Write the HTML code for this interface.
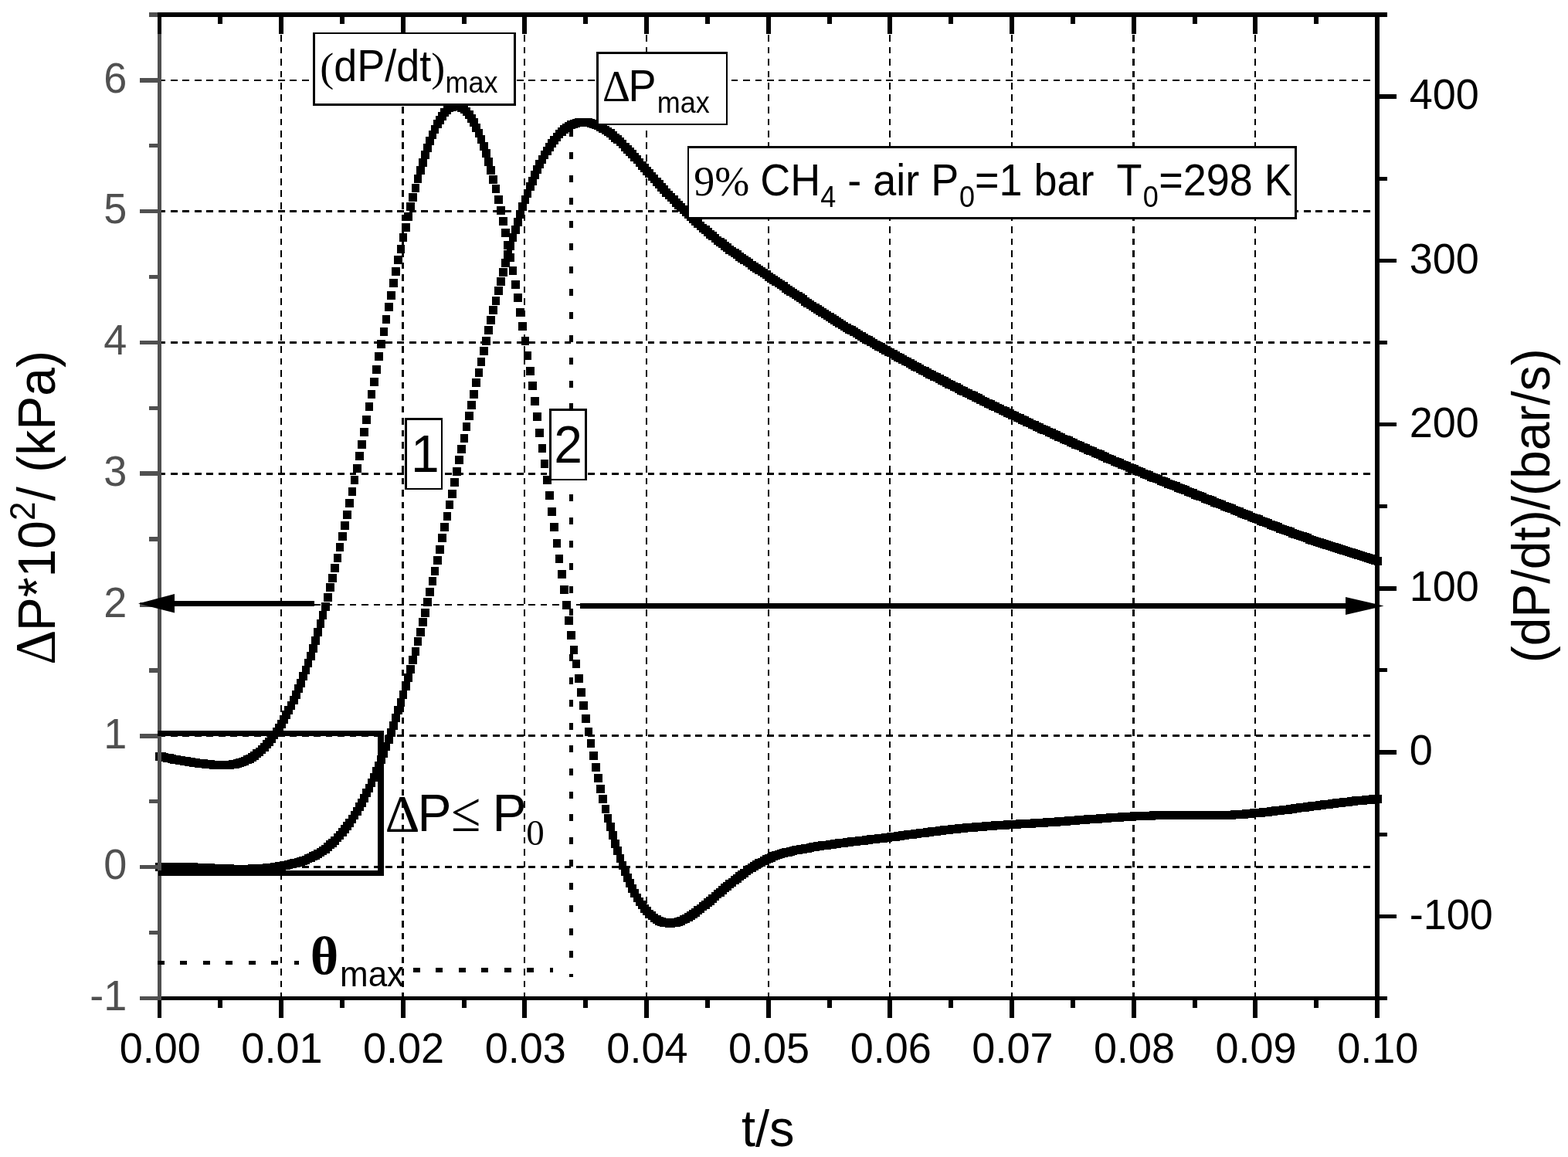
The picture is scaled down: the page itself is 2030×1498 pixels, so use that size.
<!DOCTYPE html>
<html lang="en"><head><meta charset="utf-8"><title>Pressure and rate of pressure rise</title>
<style>html,body{margin:0;padding:0;background:#fff}body{width:2030px;height:1498px;overflow:hidden}svg{display:block}text{white-space:pre}</style>
</head><body>
<svg width="2030" height="1498" viewBox="0 0 2030 1498">
<rect width="2030" height="1498" fill="#fff"/>
<g stroke="#000" fill="none" shape-rendering="crispEdges">
<line x1="364" y1="29.5" x2="364" y2="1290" stroke-width="2" stroke-dasharray="8.9 6.6"/>
<line x1="521.5" y1="29.5" x2="521.5" y2="1290" stroke-width="3" stroke-dasharray="8.9 6.6"/>
<line x1="679" y1="29.5" x2="679" y2="1290" stroke-width="2" stroke-dasharray="8.9 6.6"/>
<line x1="837" y1="29.5" x2="837" y2="1290" stroke-width="2" stroke-dasharray="8.9 6.6"/>
<line x1="995" y1="29.5" x2="995" y2="1290" stroke-width="2" stroke-dasharray="8.9 6.6"/>
<line x1="1152" y1="29.5" x2="1152" y2="1290" stroke-width="2" stroke-dasharray="8.9 6.6"/>
<line x1="1310" y1="29.5" x2="1310" y2="1290" stroke-width="2" stroke-dasharray="8.9 6.6"/>
<line x1="1467.5" y1="29.5" x2="1467.5" y2="1290" stroke-width="3" stroke-dasharray="8.9 6.6"/>
<line x1="1625" y1="29.5" x2="1625" y2="1290" stroke-width="2" stroke-dasharray="8.9 6.6"/>
<line x1="205.6" y1="104" x2="1780" y2="104" stroke-width="2" stroke-dasharray="8.7 6.74"/>
<line x1="205.6" y1="273.5" x2="1780" y2="273.5" stroke-width="3" stroke-dasharray="8.7 6.74"/>
<line x1="205.6" y1="443.5" x2="1780" y2="443.5" stroke-width="3" stroke-dasharray="8.7 6.74"/>
<line x1="205.6" y1="613.5" x2="1780" y2="613.5" stroke-width="3" stroke-dasharray="8.7 6.74"/>
<line x1="205.6" y1="783" x2="1780" y2="783" stroke-width="2" stroke-dasharray="8.7 6.74"/>
<line x1="205.6" y1="952.5" x2="1780" y2="952.5" stroke-width="3" stroke-dasharray="8.7 6.74"/>
<line x1="205.6" y1="1122.5" x2="1780" y2="1122.5" stroke-width="3" stroke-dasharray="8.7 6.74"/>
</g>
<g fill="#000" shape-rendering="crispEdges">
<path d="M201 974h11v11h-11zM204 974h11v11h-11zM208 975h10v11h-10zM211 976h10v11h-10zM214 976h11v11h-11zM217 977h11v11h-11zM220 978h11v11h-11zM223 978h11v11h-11zM227 979h10v11h-10zM230 979h10v11h-10zM233 980h11v11h-11zM236 980h11v11h-11zM239 981h11v11h-11zM242 981h11v11h-11zM245 982h11v11h-11zM249 982h10v11h-10zM252 983h10v11h-10zM255 983h11v11h-11zM258 983h11v11h-11zM261 984h11v11h-11zM264 984h11v11h-11zM268 984h10v11h-10zM271 985h10v11h-10zM274 985h11v11h-11zM277 985h11v11h-11zM280 985h11v11h-11zM283 985h11v11h-11zM286 985h11v11h-11zM290 985h10v11h-10zM293 985h10v11h-10zM296 984h11v11h-11zM299 984h11v11h-11zM302 983h11v11h-11zM305 982h11v11h-11zM309 981h10v11h-10zM312 980h10v11h-10zM315 978h11v11h-11zM318 977h11v11h-11zM321 975h11v11h-11zM324 973h11v11h-11zM327 970h11v11h-11zM331 968h10v11h-10zM334 965h10v11h-10zM337 962h11v11h-11zM340 958h11v11h-11zM343 955h11v11h-11zM346 951h11v11h-11zM350 946h10v11h-10zM353 942h10v11h-10zM356 937h11v11h-11zM359 932h11v11h-11zM362 926h11v11h-11zM365 920h11v11h-11zM368 914h11v11h-11zM372 908h10v11h-10zM375 901h11v11h-11zM378 894h11v11h-11zM381 886h11v11h-11zM384 879h11v11h-11zM387 870h11v11h-11zM391 862h10v11h-10zM394 853h10v11h-10zM397 844h11v11h-11zM400 834h11v11h-11zM403 824h11v11h-11zM406 813h11v11h-11zM410 802h10v11h-10zM413 791h10v11h-10zM416 780h11v11h-11zM419 768h11v11h-11zM422 755h11v11h-11zM425 743h11v11h-11zM428 730h11v11h-11zM432 717h10v11h-10zM435 703h10v11h-10zM438 689h11v11h-11zM441 675h11v11h-11zM444 661h11v11h-11zM447 646h11v11h-11zM451 631h10v11h-10zM454 616h10v11h-10zM457 601h11v11h-11zM460 585h11v11h-11zM463 570h11v11h-11zM466 554h11v11h-11zM469 538h11v11h-11zM473 521h10v11h-10zM476 505h10v11h-10zM479 489h11v11h-11zM482 473h11v11h-11zM485 456h11v11h-11zM488 440h11v11h-11zM492 424h10v11h-10zM495 408h10v11h-10zM498 392h11v11h-11zM501 377h11v11h-11zM504 361h11v11h-11zM507 346h11v11h-11zM510 331h11v11h-11zM514 317h10v11h-10zM517 302h10v11h-10zM520 289h11v11h-11zM523 275h11v11h-11zM526 262h11v11h-11zM529 250h11v11h-11zM533 238h10v11h-10zM536 226h10v11h-10zM539 215h11v11h-11zM542 205h11v11h-11zM545 195h11v11h-11zM548 186h11v11h-11zM551 177h11v11h-11zM555 169h10v11h-10zM558 162h10v11h-10zM561 155h11v11h-11zM564 150h11v11h-11zM567 145h11v11h-11zM570 140h11v11h-11zM574 137h10v11h-10zM577 134h10v11h-10zM580 133h11v11h-11zM583 132h11v11h-11zM586 132h11v11h-11zM589 132h11v11h-11zM592 134h11v11h-11zM596 136h10v11h-10zM599 139h10v11h-10zM602 143h11v11h-11zM605 148h11v11h-11zM608 153h11v11h-11zM611 160h11v11h-11zM615 167h10v11h-10zM618 175h10v11h-10zM621 184h11v11h-11zM624 193h11v11h-11zM627 204h11v11h-11zM630 215h11v11h-11zM633 227h11v11h-11zM637 239h10v11h-10zM640 253h11v11h-11zM643 267h11v11h-11zM646 281h11v11h-11zM649 296h11v11h-11zM652 312h11v11h-11zM656 328h10v11h-10zM659 345h10v11h-10zM662 363h11v11h-11zM665 380h11v11h-11zM668 399h11v11h-11zM671 417h11v11h-11zM675 436h10v11h-10zM678 455h10v11h-10zM681 475h11v11h-11zM684 494h11v11h-11zM687 514h11v11h-11zM690 534h11v11h-11zM693 555h11v11h-11zM697 575h10v11h-10zM700 595h10v11h-10zM703 616h11v11h-11zM706 636h11v11h-11zM709 657h11v11h-11zM712 677h11v11h-11zM716 698h10v11h-10zM719 718h10v11h-10zM722 738h11v11h-11zM725 758h11v11h-11zM728 778h11v11h-11zM731 798h11v11h-11zM734 817h11v11h-11zM738 836h10v11h-10zM741 854h10v11h-10zM744 873h11v11h-11zM747 891h11v11h-11zM750 908h11v11h-11zM753 925h11v11h-11zM757 942h10v11h-10zM760 957h10v11h-10zM763 973h11v11h-11zM766 988h11v11h-11zM769 1002h11v11h-11zM772 1016h11v11h-11zM775 1029h11v11h-11zM779 1042h10v11h-10zM782 1054h10v11h-10zM785 1065h11v11h-11zM788 1076h11v11h-11zM791 1087h11v11h-11zM794 1096h11v11h-11zM798 1106h10v11h-10zM801 1115h10v11h-10zM804 1123h11v11h-11zM807 1131h11v11h-11zM810 1138h11v11h-11zM813 1145h11v11h-11zM816 1151h11v11h-11zM820 1157h10v11h-10zM823 1162h10v11h-10zM826 1166h11v11h-11zM829 1171h11v11h-11zM832 1174h11v11h-11zM835 1178h11v11h-11zM839 1180h10v11h-10zM842 1183h10v11h-10zM845 1185h11v11h-11zM848 1187h11v11h-11zM851 1188h11v11h-11zM854 1189h11v11h-11zM857 1189h11v11h-11zM861 1190h10v11h-10zM864 1190h10v11h-10zM867 1189h11v11h-11zM870 1189h11v11h-11zM873 1188h11v11h-11zM876 1187h11v11h-11zM880 1185h10v11h-10zM883 1184h10v11h-10zM886 1182h11v11h-11zM889 1180h11v11h-11zM892 1178h11v11h-11zM895 1176h11v11h-11zM898 1173h11v11h-11zM902 1171h10v11h-10zM905 1168h10v11h-10zM908 1166h11v11h-11zM911 1163h11v11h-11zM914 1161h11v11h-11zM917 1158h11v11h-11zM921 1155h10v11h-10zM924 1152h10v11h-10zM927 1150h11v11h-11zM930 1147h11v11h-11zM933 1144h11v11h-11zM936 1142h11v11h-11zM939 1139h11v11h-11zM943 1137h10v11h-10zM946 1134h11v11h-11zM949 1132h11v11h-11zM952 1129h11v11h-11zM955 1127h11v11h-11zM958 1125h11v11h-11zM962 1122h10v11h-10zM965 1120h10v11h-10zM968 1118h11v11h-11zM971 1116h11v11h-11zM974 1114h11v11h-11zM977 1112h11v11h-11zM981 1111h10v11h-10zM984 1109h10v11h-10zM987 1107h11v11h-11zM990 1106h11v11h-11zM993 1105h11v11h-11zM996 1103h11v11h-11zM999 1102h11v11h-11zM1003 1101h10v11h-10zM1006 1100h10v11h-10zM1009 1099h11v11h-11zM1012 1098h11v11h-11zM1015 1098h11v11h-11zM1018 1097h11v11h-11zM1022 1096h10v11h-10zM1025 1095h10v11h-10zM1028 1095h11v11h-11zM1031 1094h11v11h-11zM1034 1094h11v11h-11zM1037 1093h11v11h-11zM1040 1093h11v11h-11zM1044 1092h10v11h-10zM1047 1091h10v11h-10zM1050 1091h11v11h-11zM1053 1090h11v11h-11zM1056 1090h11v11h-11zM1059 1089h11v11h-11zM1063 1089h10v11h-10zM1066 1089h10v11h-10zM1069 1088h11v11h-11zM1072 1088h11v11h-11zM1075 1087h11v11h-11zM1078 1087h11v11h-11zM1081 1086h11v11h-11zM1085 1086h10v11h-10zM1088 1086h10v11h-10zM1091 1085h11v11h-11zM1094 1085h11v11h-11zM1097 1084h11v11h-11zM1100 1084h11v11h-11zM1104 1084h10v11h-10zM1107 1083h10v11h-10zM1110 1083h11v11h-11zM1113 1083h11v11h-11zM1116 1082h11v11h-11zM1119 1082h11v11h-11zM1122 1081h11v11h-11zM1126 1081h10v11h-10zM1129 1081h10v11h-10zM1132 1080h11v11h-11zM1135 1080h11v11h-11zM1138 1080h11v11h-11zM1141 1079h11v11h-11zM1145 1079h10v11h-10zM1148 1078h10v11h-10zM1151 1078h11v11h-11zM1154 1078h11v11h-11zM1157 1077h11v11h-11zM1160 1077h11v11h-11zM1163 1076h11v11h-11zM1167 1076h10v11h-10zM1170 1075h10v11h-10zM1173 1075h11v11h-11zM1176 1075h11v11h-11zM1179 1074h11v11h-11zM1182 1074h11v11h-11zM1186 1073h10v11h-10zM1189 1073h10v11h-10zM1192 1073h11v11h-11zM1195 1072h11v11h-11zM1198 1072h11v11h-11zM1201 1071h11v11h-11zM1204 1071h11v11h-11zM1208 1071h10v11h-10zM1211 1070h11v11h-11zM1214 1070h11v11h-11zM1217 1069h11v11h-11zM1220 1069h11v11h-11zM1223 1069h11v11h-11zM1227 1068h10v11h-10zM1230 1068h10v11h-10zM1233 1068h11v11h-11zM1236 1067h11v11h-11zM1239 1067h11v11h-11zM1242 1067h11v11h-11zM1246 1066h10v11h-10zM1249 1066h10v11h-10zM1252 1066h11v11h-11zM1255 1066h11v11h-11zM1258 1065h11v11h-11zM1261 1065h11v11h-11zM1264 1065h11v11h-11zM1268 1065h10v11h-10zM1271 1064h10v11h-10zM1274 1064h11v11h-11zM1277 1064h11v11h-11zM1280 1064h11v11h-11zM1283 1063h11v11h-11zM1287 1063h10v11h-10zM1290 1063h10v11h-10zM1293 1063h11v11h-11zM1296 1063h11v11h-11zM1299 1062h11v11h-11zM1302 1062h11v11h-11zM1305 1062h11v11h-11zM1309 1062h10v11h-10zM1312 1062h10v11h-10zM1315 1061h11v11h-11zM1318 1061h11v11h-11zM1321 1061h11v11h-11zM1324 1061h11v11h-11zM1328 1061h10v11h-10zM1331 1061h10v11h-10zM1334 1060h11v11h-11zM1337 1060h11v11h-11zM1340 1060h11v11h-11zM1343 1060h11v11h-11zM1346 1060h11v11h-11zM1350 1059h10v11h-10zM1353 1059h10v11h-10zM1356 1059h11v11h-11zM1359 1059h11v11h-11zM1362 1059h11v11h-11zM1365 1058h11v11h-11zM1369 1058h10v11h-10zM1372 1058h10v11h-10zM1375 1058h11v11h-11zM1378 1057h11v11h-11zM1381 1057h11v11h-11zM1384 1057h11v11h-11zM1387 1057h11v11h-11zM1391 1056h10v11h-10zM1394 1056h10v11h-10zM1397 1056h11v11h-11zM1400 1056h11v11h-11zM1403 1055h11v11h-11zM1406 1055h11v11h-11zM1410 1055h10v11h-10zM1413 1055h10v11h-10zM1416 1055h11v11h-11zM1419 1054h11v11h-11zM1422 1054h11v11h-11zM1425 1054h11v11h-11zM1428 1054h11v11h-11zM1432 1053h10v11h-10zM1435 1053h10v11h-10zM1438 1053h11v11h-11zM1441 1053h11v11h-11zM1444 1053h11v11h-11zM1447 1052h11v11h-11zM1451 1052h10v11h-10zM1454 1052h10v11h-10zM1457 1052h11v11h-11zM1460 1052h11v11h-11zM1463 1051h11v11h-11zM1466 1051h11v11h-11zM1469 1051h11v11h-11zM1473 1051h10v11h-10zM1476 1051h10v11h-10zM1479 1051h11v11h-11zM1482 1051h11v11h-11zM1485 1051h11v11h-11zM1488 1050h11v11h-11zM1492 1050h10v11h-10zM1495 1050h10v11h-10zM1498 1050h11v11h-11zM1501 1050h11v11h-11zM1504 1050h11v11h-11zM1507 1050h11v11h-11zM1511 1050h10v11h-10zM1514 1050h10v11h-10zM1517 1050h11v11h-11zM1520 1050h11v11h-11zM1523 1050h11v11h-11zM1526 1050h11v11h-11zM1529 1050h11v11h-11zM1533 1050h10v11h-10zM1536 1050h10v11h-10zM1539 1050h11v11h-11zM1542 1050h11v11h-11zM1545 1050h11v11h-11zM1548 1050h11v11h-11zM1552 1050h10v11h-10zM1555 1050h10v11h-10zM1558 1050h11v11h-11zM1561 1050h11v11h-11zM1564 1050h11v11h-11zM1567 1050h11v11h-11zM1570 1050h11v11h-11zM1574 1050h10v11h-10zM1577 1050h10v11h-10zM1580 1050h11v11h-11zM1583 1050h11v11h-11zM1586 1050h11v11h-11zM1589 1050h11v11h-11zM1593 1049h10v11h-10zM1596 1049h10v11h-10zM1599 1049h11v11h-11zM1602 1049h11v11h-11zM1605 1049h11v11h-11zM1608 1048h11v11h-11zM1611 1048h11v11h-11zM1615 1048h10v11h-10zM1618 1047h10v11h-10zM1621 1047h11v11h-11zM1624 1047h11v11h-11zM1627 1047h11v11h-11zM1630 1046h11v11h-11zM1634 1046h10v11h-10zM1637 1046h10v11h-10zM1640 1045h11v11h-11zM1643 1045h11v11h-11zM1646 1044h11v11h-11zM1649 1044h11v11h-11zM1652 1044h11v11h-11zM1656 1043h10v11h-10zM1659 1043h10v11h-10zM1662 1043h11v11h-11zM1665 1042h11v11h-11zM1668 1042h11v11h-11zM1671 1041h11v11h-11zM1675 1041h10v11h-10zM1678 1040h10v11h-10zM1681 1040h11v11h-11zM1684 1040h11v11h-11zM1687 1039h11v11h-11zM1690 1039h11v11h-11zM1693 1038h11v11h-11zM1697 1038h10v11h-10zM1700 1038h10v11h-10zM1703 1037h11v11h-11zM1706 1037h11v11h-11zM1709 1036h11v11h-11zM1712 1036h11v11h-11zM1716 1036h10v11h-10zM1719 1035h10v11h-10zM1722 1035h11v11h-11zM1725 1034h11v11h-11zM1728 1034h11v11h-11zM1731 1034h11v11h-11zM1734 1033h11v11h-11zM1738 1033h10v11h-10zM1741 1033h10v11h-10zM1744 1032h11v11h-11zM1747 1032h11v11h-11zM1750 1031h11v11h-11zM1753 1031h11v11h-11zM1757 1031h10v11h-10zM1760 1031h10v11h-10zM1763 1030h11v11h-11zM1766 1030h11v11h-11zM1769 1030h11v11h-11zM1772 1029h11v11h-11zM1775 1029h11v11h-11zM1779 1029h10v11h-10z"/>
<path d="M201 1117h11v11h-11zM204 1117h11v11h-11zM208 1117h10v11h-10zM211 1117h10v11h-10zM214 1117h11v11h-11zM217 1117h11v11h-11zM220 1117h11v11h-11zM223 1117h11v11h-11zM227 1117h10v11h-10zM230 1117h10v11h-10zM233 1117h11v11h-11zM236 1117h11v11h-11zM239 1117h11v11h-11zM242 1117h11v11h-11zM245 1117h11v11h-11zM249 1118h10v11h-10zM252 1118h10v11h-10zM255 1118h11v11h-11zM258 1118h11v11h-11zM261 1118h11v11h-11zM264 1118h11v11h-11zM268 1118h10v11h-10zM271 1119h10v11h-10zM274 1119h11v11h-11zM277 1119h11v11h-11zM280 1119h11v11h-11zM283 1119h11v11h-11zM286 1119h11v11h-11zM290 1119h10v11h-10zM293 1119h10v11h-10zM296 1120h11v11h-11zM299 1120h11v11h-11zM302 1120h11v11h-11zM305 1120h11v11h-11zM309 1120h10v11h-10zM312 1120h10v11h-10zM315 1120h11v11h-11zM318 1120h11v11h-11zM321 1119h11v11h-11zM324 1119h11v11h-11zM327 1119h11v11h-11zM331 1119h10v11h-10zM334 1119h10v11h-10zM337 1119h11v11h-11zM340 1118h11v11h-11zM343 1118h11v11h-11zM346 1118h11v11h-11zM350 1117h10v11h-10zM353 1117h10v11h-10zM356 1116h11v11h-11zM359 1116h11v11h-11zM362 1115h11v11h-11zM365 1115h11v11h-11zM368 1114h11v11h-11zM372 1113h10v11h-10zM375 1112h11v11h-11zM378 1112h11v11h-11zM381 1111h11v11h-11zM384 1110h11v11h-11zM387 1109h11v11h-11zM391 1108h10v11h-10zM394 1106h10v11h-10zM397 1105h11v11h-11zM400 1103h11v11h-11zM403 1102h11v11h-11zM406 1100h11v11h-11zM410 1098h10v11h-10zM413 1096h10v11h-10zM416 1094h11v11h-11zM419 1091h11v11h-11zM422 1088h11v11h-11zM425 1086h11v11h-11zM428 1083h11v11h-11zM432 1079h10v11h-10zM435 1076h10v11h-10zM438 1072h11v11h-11zM441 1068h11v11h-11zM444 1064h11v11h-11zM447 1060h11v11h-11zM451 1055h10v11h-10zM454 1050h10v11h-10zM457 1045h11v11h-11zM460 1039h11v11h-11zM463 1034h11v11h-11zM466 1028h11v11h-11zM469 1021h11v11h-11zM473 1015h10v11h-10zM476 1008h10v11h-10zM479 1001h11v11h-11zM482 993h11v11h-11zM485 986h11v11h-11zM488 978h11v11h-11zM492 970h10v11h-10zM495 961h10v11h-10zM498 952h11v11h-11zM501 943h11v11h-11zM504 934h11v11h-11zM507 924h11v11h-11zM510 914h11v11h-11zM514 904h10v11h-10zM517 894h10v11h-10zM520 883h11v11h-11zM523 872h11v11h-11zM526 861h11v11h-11zM529 849h11v11h-11zM533 838h10v11h-10zM536 825h10v11h-10zM539 813h11v11h-11zM542 800h11v11h-11zM545 788h11v11h-11zM548 774h11v11h-11zM551 761h11v11h-11zM555 747h10v11h-10zM558 734h10v11h-10zM561 720h11v11h-11zM564 706h11v11h-11zM567 691h11v11h-11zM570 677h11v11h-11zM574 663h10v11h-10zM577 648h10v11h-10zM580 634h11v11h-11zM583 619h11v11h-11zM586 605h11v11h-11zM589 590h11v11h-11zM592 576h11v11h-11zM596 562h10v11h-10zM599 547h10v11h-10zM602 533h11v11h-11zM605 519h11v11h-11zM608 505h11v11h-11zM611 490h11v11h-11zM615 477h10v11h-10zM618 463h10v11h-10zM621 449h11v11h-11zM624 436h11v11h-11zM627 422h11v11h-11zM630 409h11v11h-11zM633 396h11v11h-11zM637 384h10v11h-10zM640 371h11v11h-11zM643 359h11v11h-11zM646 347h11v11h-11zM649 335h11v11h-11zM652 324h11v11h-11zM656 313h10v11h-10zM659 302h10v11h-10zM662 292h11v11h-11zM665 282h11v11h-11zM668 272h11v11h-11zM671 262h11v11h-11zM675 253h10v11h-10zM678 245h10v11h-10zM681 236h11v11h-11zM684 229h11v11h-11zM687 221h11v11h-11zM690 214h11v11h-11zM693 207h11v11h-11zM697 201h10v11h-10zM700 195h10v11h-10zM703 190h11v11h-11zM706 185h11v11h-11zM709 180h11v11h-11zM712 176h11v11h-11zM716 172h10v11h-10zM719 168h10v11h-10zM722 165h11v11h-11zM725 162h11v11h-11zM728 160h11v11h-11zM731 158h11v11h-11zM734 156h11v11h-11zM738 155h10v11h-10zM741 154h10v11h-10zM744 153h11v11h-11zM747 153h11v11h-11zM750 153h11v11h-11zM753 153h11v11h-11zM757 153h10v11h-10zM760 154h10v11h-10zM763 155h11v11h-11zM766 156h11v11h-11zM769 157h11v11h-11zM772 159h11v11h-11zM775 161h11v11h-11zM779 163h10v11h-10zM782 165h10v11h-10zM785 167h11v11h-11zM788 170h11v11h-11zM791 173h11v11h-11zM794 175h11v11h-11zM798 178h10v11h-10zM801 181h10v11h-10zM804 185h11v11h-11zM807 188h11v11h-11zM810 191h11v11h-11zM813 194h11v11h-11zM816 198h11v11h-11zM820 201h10v11h-10zM823 205h10v11h-10zM826 209h11v11h-11zM829 212h11v11h-11zM832 216h11v11h-11zM835 219h11v11h-11zM839 223h10v11h-10zM842 226h10v11h-10zM845 230h11v11h-11zM848 233h11v11h-11zM851 237h11v11h-11zM854 240h11v11h-11zM857 244h11v11h-11zM861 247h10v11h-10zM864 250h10v11h-10zM867 253h11v11h-11zM870 257h11v11h-11zM873 260h11v11h-11zM876 263h11v11h-11zM880 266h10v11h-10zM883 269h10v11h-10zM886 272h11v11h-11zM889 275h11v11h-11zM892 278h11v11h-11zM895 281h11v11h-11zM898 284h11v11h-11zM902 287h10v11h-10zM905 290h10v11h-10zM908 292h11v11h-11zM911 295h11v11h-11zM914 298h11v11h-11zM917 300h11v11h-11zM921 303h10v11h-10zM924 306h10v11h-10zM927 308h11v11h-11zM930 310h11v11h-11zM933 313h11v11h-11zM936 315h11v11h-11zM939 318h11v11h-11zM943 320h10v11h-10zM946 322h11v11h-11zM949 324h11v11h-11zM952 327h11v11h-11zM955 329h11v11h-11zM958 331h11v11h-11zM962 333h10v11h-10zM965 335h10v11h-10zM968 338h11v11h-11zM971 340h11v11h-11zM974 342h11v11h-11zM977 344h11v11h-11zM981 346h10v11h-10zM984 348h10v11h-10zM987 350h11v11h-11zM990 353h11v11h-11zM993 355h11v11h-11zM996 357h11v11h-11zM999 359h11v11h-11zM1003 361h10v11h-10zM1006 363h10v11h-10zM1009 365h11v11h-11zM1012 368h11v11h-11zM1015 370h11v11h-11zM1018 372h11v11h-11zM1022 374h10v11h-10zM1025 376h10v11h-10zM1028 378h11v11h-11zM1031 380h11v11h-11zM1034 382h11v11h-11zM1037 385h11v11h-11zM1040 387h11v11h-11zM1044 389h10v11h-10zM1047 391h10v11h-10zM1050 393h11v11h-11zM1053 395h11v11h-11zM1056 397h11v11h-11zM1059 399h11v11h-11zM1063 401h10v11h-10zM1066 403h10v11h-10zM1069 405h11v11h-11zM1072 407h11v11h-11zM1075 409h11v11h-11zM1078 411h11v11h-11zM1081 413h11v11h-11zM1085 415h10v11h-10zM1088 417h10v11h-10zM1091 419h11v11h-11zM1094 421h11v11h-11zM1097 422h11v11h-11zM1100 424h11v11h-11zM1104 426h10v11h-10zM1107 428h10v11h-10zM1110 430h11v11h-11zM1113 432h11v11h-11zM1116 434h11v11h-11zM1119 435h11v11h-11zM1122 437h11v11h-11zM1126 439h10v11h-10zM1129 441h10v11h-10zM1132 443h11v11h-11zM1135 444h11v11h-11zM1138 446h11v11h-11zM1141 448h11v11h-11zM1145 450h10v11h-10zM1148 451h10v11h-10zM1151 453h11v11h-11zM1154 455h11v11h-11zM1157 457h11v11h-11zM1160 458h11v11h-11zM1163 460h11v11h-11zM1167 462h10v11h-10zM1170 463h10v11h-10zM1173 465h11v11h-11zM1176 467h11v11h-11zM1179 469h11v11h-11zM1182 470h11v11h-11zM1186 472h10v11h-10zM1189 474h10v11h-10zM1192 475h11v11h-11zM1195 477h11v11h-11zM1198 479h11v11h-11zM1201 480h11v11h-11zM1204 482h11v11h-11zM1208 483h10v11h-10zM1211 485h11v11h-11zM1214 487h11v11h-11zM1217 488h11v11h-11zM1220 490h11v11h-11zM1223 492h11v11h-11zM1227 493h10v11h-10zM1230 495h10v11h-10zM1233 496h11v11h-11zM1236 498h11v11h-11zM1239 500h11v11h-11zM1242 501h11v11h-11zM1246 503h10v11h-10zM1249 504h10v11h-10zM1252 506h11v11h-11zM1255 507h11v11h-11zM1258 509h11v11h-11zM1261 510h11v11h-11zM1264 512h11v11h-11zM1268 514h10v11h-10zM1271 515h10v11h-10zM1274 517h11v11h-11zM1277 518h11v11h-11zM1280 520h11v11h-11zM1283 521h11v11h-11zM1287 523h10v11h-10zM1290 524h10v11h-10zM1293 526h11v11h-11zM1296 527h11v11h-11zM1299 529h11v11h-11zM1302 530h11v11h-11zM1305 532h11v11h-11zM1309 533h10v11h-10zM1312 535h10v11h-10zM1315 536h11v11h-11zM1318 538h11v11h-11zM1321 539h11v11h-11zM1324 541h11v11h-11zM1328 542h10v11h-10zM1331 544h10v11h-10zM1334 545h11v11h-11zM1337 547h11v11h-11zM1340 548h11v11h-11zM1343 550h11v11h-11zM1346 551h11v11h-11zM1350 552h10v11h-10zM1353 554h10v11h-10zM1356 555h11v11h-11zM1359 557h11v11h-11zM1362 558h11v11h-11zM1365 560h11v11h-11zM1369 561h10v11h-10zM1372 563h10v11h-10zM1375 564h11v11h-11zM1378 565h11v11h-11zM1381 567h11v11h-11zM1384 568h11v11h-11zM1387 570h11v11h-11zM1391 571h10v11h-10zM1394 572h10v11h-10zM1397 574h11v11h-11zM1400 575h11v11h-11zM1403 577h11v11h-11zM1406 578h11v11h-11zM1410 579h10v11h-10zM1413 581h10v11h-10zM1416 582h11v11h-11zM1419 583h11v11h-11zM1422 585h11v11h-11zM1425 586h11v11h-11zM1428 588h11v11h-11zM1432 589h10v11h-10zM1435 590h10v11h-10zM1438 592h11v11h-11zM1441 593h11v11h-11zM1444 594h11v11h-11zM1447 596h11v11h-11zM1451 597h10v11h-10zM1454 598h10v11h-10zM1457 600h11v11h-11zM1460 601h11v11h-11zM1463 602h11v11h-11zM1466 604h11v11h-11zM1469 605h11v11h-11zM1473 606h10v11h-10zM1476 608h10v11h-10zM1479 609h11v11h-11zM1482 610h11v11h-11zM1485 612h11v11h-11zM1488 613h11v11h-11zM1492 614h10v11h-10zM1495 615h10v11h-10zM1498 617h11v11h-11zM1501 618h11v11h-11zM1504 619h11v11h-11zM1507 621h11v11h-11zM1511 622h10v11h-10zM1514 623h10v11h-10zM1517 624h11v11h-11zM1520 626h11v11h-11zM1523 627h11v11h-11zM1526 628h11v11h-11zM1529 629h11v11h-11zM1533 631h10v11h-10zM1536 632h10v11h-10zM1539 633h11v11h-11zM1542 635h11v11h-11zM1545 636h11v11h-11zM1548 637h11v11h-11zM1552 638h10v11h-10zM1555 640h10v11h-10zM1558 641h11v11h-11zM1561 642h11v11h-11zM1564 643h11v11h-11zM1567 645h11v11h-11zM1570 646h11v11h-11zM1574 647h10v11h-10zM1577 648h10v11h-10zM1580 650h11v11h-11zM1583 651h11v11h-11zM1586 652h11v11h-11zM1589 653h11v11h-11zM1593 655h10v11h-10zM1596 656h10v11h-10zM1599 657h11v11h-11zM1602 659h11v11h-11zM1605 660h11v11h-11zM1608 661h11v11h-11zM1611 662h11v11h-11zM1615 664h10v11h-10zM1618 665h10v11h-10zM1621 666h11v11h-11zM1624 667h11v11h-11zM1627 669h11v11h-11zM1630 670h11v11h-11zM1634 671h10v11h-10zM1637 672h10v11h-10zM1640 674h11v11h-11zM1643 675h11v11h-11zM1646 676h11v11h-11zM1649 677h11v11h-11zM1652 679h11v11h-11zM1656 680h10v11h-10zM1659 681h10v11h-10zM1662 682h11v11h-11zM1665 683h11v11h-11zM1668 685h11v11h-11zM1671 686h11v11h-11zM1675 687h10v11h-10zM1678 688h10v11h-10zM1681 689h11v11h-11zM1684 690h11v11h-11zM1687 691h11v11h-11zM1690 693h11v11h-11zM1693 694h11v11h-11zM1697 695h10v11h-10zM1700 696h10v11h-10zM1703 697h11v11h-11zM1706 698h11v11h-11zM1709 699h11v11h-11zM1712 700h11v11h-11zM1716 701h10v11h-10zM1719 702h10v11h-10zM1722 703h11v11h-11zM1725 704h11v11h-11zM1728 705h11v11h-11zM1731 706h11v11h-11zM1734 707h11v11h-11zM1738 708h10v11h-10zM1741 709h10v11h-10zM1744 710h11v11h-11zM1747 711h11v11h-11zM1750 712h11v11h-11zM1753 713h11v11h-11zM1757 714h10v11h-10zM1760 715h10v11h-10zM1763 716h11v11h-11zM1766 717h11v11h-11zM1769 718h11v11h-11zM1772 719h11v11h-11zM1775 720h11v11h-11zM1779 721h10v11h-10z"/>
</g>
<g shape-rendering="crispEdges">
<rect x="204" y="16" width="5" height="1279" fill="#505050"/>
<rect x="181" y="1289.65" width="23" height="5.5" fill="#505050"/>
<rect x="193" y="1204.75" width="11" height="5.5" fill="#505050"/>
<rect x="181" y="1119.85" width="23" height="5.5" fill="#505050"/>
<rect x="193" y="1034.95" width="11" height="5.5" fill="#505050"/>
<rect x="181" y="950.05" width="23" height="5.5" fill="#505050"/>
<rect x="193" y="865.15" width="11" height="5.5" fill="#505050"/>
<rect x="181" y="780.25" width="23" height="5.5" fill="#505050"/>
<rect x="193" y="695.35" width="11" height="5.5" fill="#505050"/>
<rect x="181" y="610.45" width="23" height="5.5" fill="#505050"/>
<rect x="193" y="525.55" width="11" height="5.5" fill="#505050"/>
<rect x="181" y="440.65" width="23" height="5.5" fill="#505050"/>
<rect x="193" y="355.75" width="11" height="5.5" fill="#505050"/>
<rect x="181" y="270.85" width="23" height="5.5" fill="#505050"/>
<rect x="193" y="185.95" width="11" height="5.5" fill="#505050"/>
<rect x="181" y="101.05" width="23" height="5.5" fill="#505050"/>
<rect x="193" y="16.15" width="11" height="5.5" fill="#505050"/>
<rect x="204" y="16" width="1592" height="6" fill="#000"/>
<rect x="209" y="1290" width="1587" height="5" fill="#000"/>
<rect x="1780" y="16" width="6" height="1302" fill="#000"/>
<rect x="204" y="22" width="5" height="22" fill="#000"/>
<rect x="204" y="1295" width="5" height="23" fill="#000"/>
<rect x="282" y="22" width="6" height="9" fill="#000"/>
<rect x="282" y="1295" width="6" height="10" fill="#000"/>
<rect x="361" y="22" width="6" height="22" fill="#000"/>
<rect x="361" y="1295" width="6" height="23" fill="#000"/>
<rect x="440" y="22" width="6" height="9" fill="#000"/>
<rect x="440" y="1295" width="6" height="10" fill="#000"/>
<rect x="519" y="22" width="6" height="22" fill="#000"/>
<rect x="519" y="1295" width="6" height="23" fill="#000"/>
<rect x="598" y="22" width="6" height="9" fill="#000"/>
<rect x="598" y="1295" width="6" height="10" fill="#000"/>
<rect x="676" y="22" width="6" height="22" fill="#000"/>
<rect x="676" y="1295" width="6" height="23" fill="#000"/>
<rect x="755" y="22" width="6" height="9" fill="#000"/>
<rect x="755" y="1295" width="6" height="10" fill="#000"/>
<rect x="834" y="22" width="6" height="22" fill="#000"/>
<rect x="834" y="1295" width="6" height="23" fill="#000"/>
<rect x="913" y="22" width="6" height="9" fill="#000"/>
<rect x="913" y="1295" width="6" height="10" fill="#000"/>
<rect x="992" y="22" width="6" height="22" fill="#000"/>
<rect x="992" y="1295" width="6" height="23" fill="#000"/>
<rect x="1071" y="22" width="6" height="9" fill="#000"/>
<rect x="1071" y="1295" width="6" height="10" fill="#000"/>
<rect x="1149" y="22" width="6" height="22" fill="#000"/>
<rect x="1149" y="1295" width="6" height="23" fill="#000"/>
<rect x="1228" y="22" width="6" height="9" fill="#000"/>
<rect x="1228" y="1295" width="6" height="10" fill="#000"/>
<rect x="1307" y="22" width="6" height="22" fill="#000"/>
<rect x="1307" y="1295" width="6" height="23" fill="#000"/>
<rect x="1386" y="22" width="6" height="9" fill="#000"/>
<rect x="1386" y="1295" width="6" height="10" fill="#000"/>
<rect x="1465" y="22" width="6" height="22" fill="#000"/>
<rect x="1465" y="1295" width="6" height="23" fill="#000"/>
<rect x="1544" y="22" width="6" height="9" fill="#000"/>
<rect x="1544" y="1295" width="6" height="10" fill="#000"/>
<rect x="1622" y="22" width="6" height="22" fill="#000"/>
<rect x="1622" y="1295" width="6" height="23" fill="#000"/>
<rect x="1701" y="22" width="6" height="9" fill="#000"/>
<rect x="1701" y="1295" width="6" height="10" fill="#000"/>
<rect x="1780" y="22" width="6" height="22" fill="#000"/>
<rect x="1780" y="1295" width="6" height="23" fill="#000"/>
<rect x="1786" y="1183.50" width="22" height="5.5" fill="#000"/>
<rect x="1786" y="1077.62" width="10" height="5" fill="#000"/>
<rect x="1786" y="971.25" width="22" height="5.5" fill="#000"/>
<rect x="1786" y="865.38" width="10" height="5" fill="#000"/>
<rect x="1786" y="759.00" width="22" height="5.5" fill="#000"/>
<rect x="1786" y="653.12" width="10" height="5" fill="#000"/>
<rect x="1786" y="546.75" width="22" height="5.5" fill="#000"/>
<rect x="1786" y="440.88" width="10" height="5" fill="#000"/>
<rect x="1786" y="334.50" width="22" height="5.5" fill="#000"/>
<rect x="1786" y="228.62" width="10" height="5" fill="#000"/>
<rect x="1786" y="122.25" width="22" height="5.5" fill="#000"/>
</g>
<g shape-rendering="crispEdges" fill="none" stroke="#000">
<path d="M204 946H497V1134H205V1127H489V953H204Z" fill="#000" stroke="none"/>
<line x1="739.5" y1="167.6" x2="739.5" y2="1265" stroke-width="5" stroke-dasharray="9 20.55"/>
<line x1="203.5" y1="1246.5" x2="387" y2="1246.5" stroke-width="5" stroke-dasharray="9.3 20.2"/>
<line x1="534.6" y1="1256" x2="716" y2="1256" stroke-width="6" stroke-dasharray="9.3 20.2"/>
<line x1="225" y1="781.5" x2="407" y2="781.5" stroke-width="7"/>
<line x1="751" y1="784.5" x2="1745" y2="784.5" stroke-width="7"/>
</g>
<polygon points="179,781.5 226,769 226,793.5" fill="#000"/>
<polygon points="1791.5,784.5 1742,773 1742,796" fill="#000"/>
<text transform="translate(207.3,1376.3) scale(1,1.03)" font-family='"Liberation Sans", Arial, Helvetica, sans-serif' font-size="54" text-anchor="middle" fill="#000">0.00</text>
<text transform="translate(364.9,1376.3) scale(1,1.03)" font-family='"Liberation Sans", Arial, Helvetica, sans-serif' font-size="54" text-anchor="middle" fill="#000">0.01</text>
<text transform="translate(522.6,1376.3) scale(1,1.03)" font-family='"Liberation Sans", Arial, Helvetica, sans-serif' font-size="54" text-anchor="middle" fill="#000">0.02</text>
<text transform="translate(680.2,1376.3) scale(1,1.03)" font-family='"Liberation Sans", Arial, Helvetica, sans-serif' font-size="54" text-anchor="middle" fill="#000">0.03</text>
<text transform="translate(837.9,1376.3) scale(1,1.03)" font-family='"Liberation Sans", Arial, Helvetica, sans-serif' font-size="54" text-anchor="middle" fill="#000">0.04</text>
<text transform="translate(995.5,1376.3) scale(1,1.03)" font-family='"Liberation Sans", Arial, Helvetica, sans-serif' font-size="54" text-anchor="middle" fill="#000">0.05</text>
<text transform="translate(1153.2,1376.3) scale(1,1.03)" font-family='"Liberation Sans", Arial, Helvetica, sans-serif' font-size="54" text-anchor="middle" fill="#000">0.06</text>
<text transform="translate(1310.9,1376.3) scale(1,1.03)" font-family='"Liberation Sans", Arial, Helvetica, sans-serif' font-size="54" text-anchor="middle" fill="#000">0.07</text>
<text transform="translate(1468.5,1376.3) scale(1,1.03)" font-family='"Liberation Sans", Arial, Helvetica, sans-serif' font-size="54" text-anchor="middle" fill="#000">0.08</text>
<text transform="translate(1626.1,1376.3) scale(1,1.03)" font-family='"Liberation Sans", Arial, Helvetica, sans-serif' font-size="54" text-anchor="middle" fill="#000">0.09</text>
<text transform="translate(1783.8,1376.3) scale(1,1.03)" font-family='"Liberation Sans", Arial, Helvetica, sans-serif' font-size="54" text-anchor="middle" fill="#000">0.10</text>
<text transform="translate(164.3,1308.1) scale(1,1.03)" font-family='"Liberation Sans", Arial, Helvetica, sans-serif' font-size="54" text-anchor="end" fill="#505050">-1</text>
<text transform="translate(164.3,1138.3) scale(1,1.03)" font-family='"Liberation Sans", Arial, Helvetica, sans-serif' font-size="54" text-anchor="end" fill="#505050">0</text>
<text transform="translate(164.3,968.5) scale(1,1.03)" font-family='"Liberation Sans", Arial, Helvetica, sans-serif' font-size="54" text-anchor="end" fill="#505050">1</text>
<text transform="translate(164.3,798.7) scale(1,1.03)" font-family='"Liberation Sans", Arial, Helvetica, sans-serif' font-size="54" text-anchor="end" fill="#505050">2</text>
<text transform="translate(164.3,628.9) scale(1,1.03)" font-family='"Liberation Sans", Arial, Helvetica, sans-serif' font-size="54" text-anchor="end" fill="#505050">3</text>
<text transform="translate(164.3,459.1) scale(1,1.03)" font-family='"Liberation Sans", Arial, Helvetica, sans-serif' font-size="54" text-anchor="end" fill="#505050">4</text>
<text transform="translate(164.3,289.3) scale(1,1.03)" font-family='"Liberation Sans", Arial, Helvetica, sans-serif' font-size="54" text-anchor="end" fill="#505050">5</text>
<text transform="translate(164.3,119.5) scale(1,1.03)" font-family='"Liberation Sans", Arial, Helvetica, sans-serif' font-size="54" text-anchor="end" fill="#505050">6</text>
<text transform="translate(1824.8,1202.5) scale(1,1.03)" font-family='"Liberation Sans", Arial, Helvetica, sans-serif' font-size="54" fill="#000">-100</text>
<text transform="translate(1824.8,990.3) scale(1,1.03)" font-family='"Liberation Sans", Arial, Helvetica, sans-serif' font-size="54" fill="#000">0</text>
<text transform="translate(1824.8,778.0) scale(1,1.03)" font-family='"Liberation Sans", Arial, Helvetica, sans-serif' font-size="54" fill="#000">100</text>
<text transform="translate(1824.8,565.8) scale(1,1.03)" font-family='"Liberation Sans", Arial, Helvetica, sans-serif' font-size="54" fill="#000">200</text>
<text transform="translate(1824.8,353.6) scale(1,1.03)" font-family='"Liberation Sans", Arial, Helvetica, sans-serif' font-size="54" fill="#000">300</text>
<text transform="translate(1824.8,141.3) scale(1,1.03)" font-family='"Liberation Sans", Arial, Helvetica, sans-serif' font-size="54" fill="#000">400</text>
<text transform="translate(994.3,1483.5) scale(1,1.02)" font-family='"Liberation Sans", Arial, Helvetica, sans-serif' font-size="65" text-anchor="middle" fill="#000">t/s</text>
<text transform="translate(71.2,860.7) rotate(-90) scale(1,1.045)" font-family='"Liberation Sans", Arial, Helvetica, sans-serif' font-size="66" fill="#000"><tspan font-family='"Liberation Serif", "Times New Roman", Times, serif' font-size="70">Δ</tspan><tspan x="43.5">P*10</tspan><tspan font-size="44" dy="-25.5">2</tspan><tspan dy="25.5" dx="1.2">/ (kPa)</tspan></text>
<text transform="translate(2005.6,654.8) rotate(-90) scale(1,1.045)" font-family='"Liberation Sans", Arial, Helvetica, sans-serif' font-size="66" text-anchor="middle" fill="#000">(dP/dt)/(bar/s)</text>
<path d="M405 42H668V137H405Z" fill="#000" shape-rendering="crispEdges"/><path d="M408 44H665V134H408Z" fill="#fff" shape-rendering="crispEdges"/>
<text transform="translate(414.2,105) scale(1,0.97)" font-family='"Liberation Serif", "Times New Roman", Times, serif' font-size="54" fill="#000">(</text>
<text transform="translate(432.2,105) scale(1,1.055)" font-family='"Liberation Sans", Arial, Helvetica, sans-serif' font-size="54" fill="#000">dP/dt</text>
<text transform="translate(558.2,105) scale(1,0.97)" font-family='"Liberation Serif", "Times New Roman", Times, serif' font-size="54" fill="#000">)</text>
<text transform="translate(576.5,120.2) scale(1,1.055)" font-family='"Liberation Sans", Arial, Helvetica, sans-serif' font-size="36" fill="#000">max</text>
<path d="M772 67H942V162H772Z" fill="#000" shape-rendering="crispEdges"/><path d="M775 70H940V160H775Z" fill="#fff" shape-rendering="crispEdges"/>
<text transform="translate(779.9,130.9)" font-family='"Liberation Serif", "Times New Roman", Times, serif' font-size="56" fill="#000">Δ</text>
<text transform="translate(813.4,130.9) scale(1,1.055)" font-family='"Liberation Sans", Arial, Helvetica, sans-serif' font-size="54" fill="#000">P</text>
<text transform="translate(850.8,145.8) scale(1,1.055)" font-family='"Liberation Sans", Arial, Helvetica, sans-serif' font-size="36" fill="#000">max</text>
<path d="M890 189H1679V284H890Z" fill="#000" shape-rendering="crispEdges"/><path d="M892 192H1676V281H892Z" fill="#fff" shape-rendering="crispEdges"/>
<text transform="translate(898.2,252.8) scale(1,1.03)" font-family='"Liberation Serif", "Times New Roman", Times, serif' font-size="54" fill="#000">9%</text>
<text transform="translate(984.3,252.8) scale(1,1.055)" font-family='"Liberation Sans", Arial, Helvetica, sans-serif' font-size="54" fill="#000">CH<tspan font-size="36" dy="14.2">4</tspan><tspan dy="-14.2"> - air P</tspan><tspan font-size="36" dy="14.2" dx="0.6">0</tspan><tspan dy="-14.2">=1 bar  T</tspan><tspan font-size="36" dy="14.2" dx="1.2">0</tspan><tspan dy="-14.2" dx="0.4">=298 K</tspan></text>
<path d="M524 541H573V634H524Z" fill="#000" shape-rendering="crispEdges"/><path d="M527 544H571V632H527Z" fill="#fff" shape-rendering="crispEdges"/>
<text transform="translate(550.3,611.1) scale(1,1.045)" font-family='"Liberation Sans", Arial, Helvetica, sans-serif' font-size="66" text-anchor="middle" fill="#000">1</text>
<path d="M711 529H760V622H711Z" fill="#000" shape-rendering="crispEdges"/><path d="M714 532H757V620H714Z" fill="#fff" shape-rendering="crispEdges"/>
<text transform="translate(735.6,599) scale(1,1.045)" font-family='"Liberation Sans", Arial, Helvetica, sans-serif' font-size="66" text-anchor="middle" fill="#000">2</text>
<text transform="translate(498.4,1075.8) scale(1,0.975)" font-family='"Liberation Serif", "Times New Roman", Times, serif' font-size="70" fill="#000">Δ</text>
<text transform="translate(540.6,1075.8) scale(1,1.045)" font-family='"Liberation Sans", Arial, Helvetica, sans-serif' font-size="66" fill="#000">P</text>
<text transform="translate(584.1,1075.8) scale(1,1.04)" font-family='"Liberation Serif", "Times New Roman", Times, serif' font-size="70" fill="#000">≤</text>
<text transform="translate(637.5,1075.8) scale(1,1.045)" font-family='"Liberation Sans", Arial, Helvetica, sans-serif' font-size="66" fill="#000">P</text>
<text transform="translate(681.2,1094.3)" font-family='"Liberation Serif", "Times New Roman", Times, serif' font-size="47" fill="#000">0</text>
<text transform="translate(401.8,1260.7) scale(1,0.985)" font-family='"Liberation Serif", "Times New Roman", Times, serif' font-size="70" fill="#000" font-weight="bold">θ</text>
<text transform="translate(440,1276.6) scale(1,1.055)" font-family='"Liberation Sans", Arial, Helvetica, sans-serif' font-size="44" fill="#000">max</text>
</svg>
</body></html>
